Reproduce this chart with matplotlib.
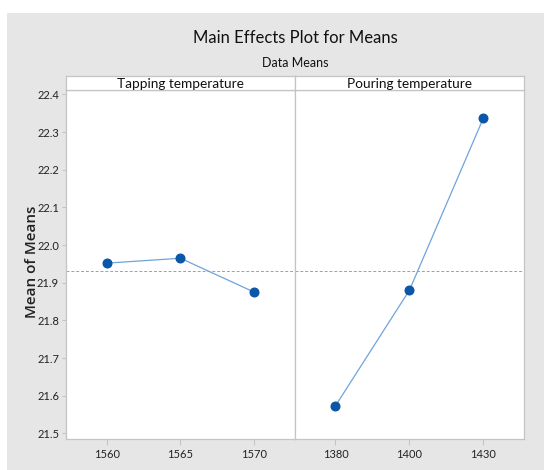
"""
Main effects plot for means (Minitab style), two factors side by side.
"""

import matplotlib
matplotlib.use("Agg")
import matplotlib.pyplot as plt
from matplotlib.patches import Rectangle

# data
tapping_levels = ["1560", "1565", "1570"]
tapping_means = [21.952, 21.965, 21.875]
pouring_levels = ["1380", "1400", "1430"]
pouring_means = [21.573, 21.880, 22.337]
grand_mean = 21.930

panel_titles = ["Tapping temperature", "Pouring temperature"]
y_ticks = [21.5, 21.6, 21.7, 21.8, 21.9, 22.0, 22.1, 22.2, 22.3, 22.4]

NARROW = ["Lato", "DejaVu Sans"]
BG = "#e6e6e6"
FRAME = "#c4c4c4"
LINE_C = "#6fa3dc"
DOT_C = "#0a56a8"

W, H = 544, 470
fig = plt.figure(figsize=(W / 100, H / 100), dpi=100)
fig.patch.set_facecolor("white")

# gray backdrop like the minitab graph window
fig.add_artist(Rectangle((7 / W, 0), 1 - 7 / W, 1 - 12.5 / H,
                         transform=fig.transFigure, facecolor=BG,
                         edgecolor="none", zorder=0))


def px_box(x0, y0, x1, y1):
    # pixel box (top-left origin) -> figure fraction rect
    return [x0 / W, 1 - y1 / H, (x1 - x0) / W, (y1 - y0) / H]


left, mid, right = 66, 294.8, 524
top, bottom, strip_top = 90.3, 439, 75.7

panels = [(left, mid, tapping_levels, tapping_means),
          (mid, right, pouring_levels, pouring_means)]

axes = []
for i, (x0, x1, levels, means) in enumerate(panels):
    ax = fig.add_axes(px_box(x0, top, x1, bottom))
    ax.set_facecolor("white")
    xs = range(1, len(levels) + 1)
    ax.axhline(grand_mean, color="#a0a0a0", linestyle=(0, (3, 2)),
               linewidth=0.7, zorder=1)
    ax.plot(xs, means, color=LINE_C, linewidth=0.9, zorder=2)
    ax.plot(xs, means, "o", color=DOT_C, markersize=6.2, zorder=3)
    ax.set_xlim(0.45, 3.55)
    ax.set_ylim(21.485, 22.411)
    ax.set_xticks(list(xs))
    ax.set_xticklabels(levels, family=NARROW, fontsize=8, color="#222222")
    ax.set_yticks(y_ticks)
    if i == 0:
        ax.set_yticklabels([f"{v:.1f}" for v in y_ticks], family=NARROW,
                           fontsize=8, color="#222222")
    else:
        ax.tick_params(axis="y", left=False, labelleft=False)
    ax.tick_params(axis="x", length=4, width=0.8, color=FRAME, pad=3)
    ax.tick_params(axis="y", length=3, width=0.8, color=FRAME, pad=2)
    for s in ax.spines.values():
        s.set_color(FRAME)
        s.set_linewidth(0.9)
    axes.append(ax)

    # strip header
    sax = fig.add_axes(px_box(x0, strip_top, x1, top))
    sax.set_facecolor("white")
    sax.set_xticks([])
    sax.set_yticks([])
    for s in sax.spines.values():
        s.set_color(FRAME)
        s.set_linewidth(0.9)
    sax.text(0.5, 0.45, panel_titles[i], ha="center", va="center",
             family=NARROW, fontsize=9.8, color="#111111",
             transform=sax.transAxes)

fig.text(32 / W, 1 - 262 / H, "Mean of Means", rotation=90,
         ha="center", va="center", family=["Open Sans", "DejaVu Sans"],
         fontsize=11, fontweight="semibold", color="#222222")

fig.text(0.5 * (left + right) / W, 1 - 38 / H, "Main Effects Plot for Means",
         ha="center", va="center", family=NARROW, fontsize=12,
         color="#111111")
fig.text(0.5 * (left + right) / W, 1 - 63 / H, "Data Means",
         ha="center", va="center", family=NARROW, fontsize=9,
         color="#111111")

fig.savefig("out.png", dpi=100)
plt.close(fig)
